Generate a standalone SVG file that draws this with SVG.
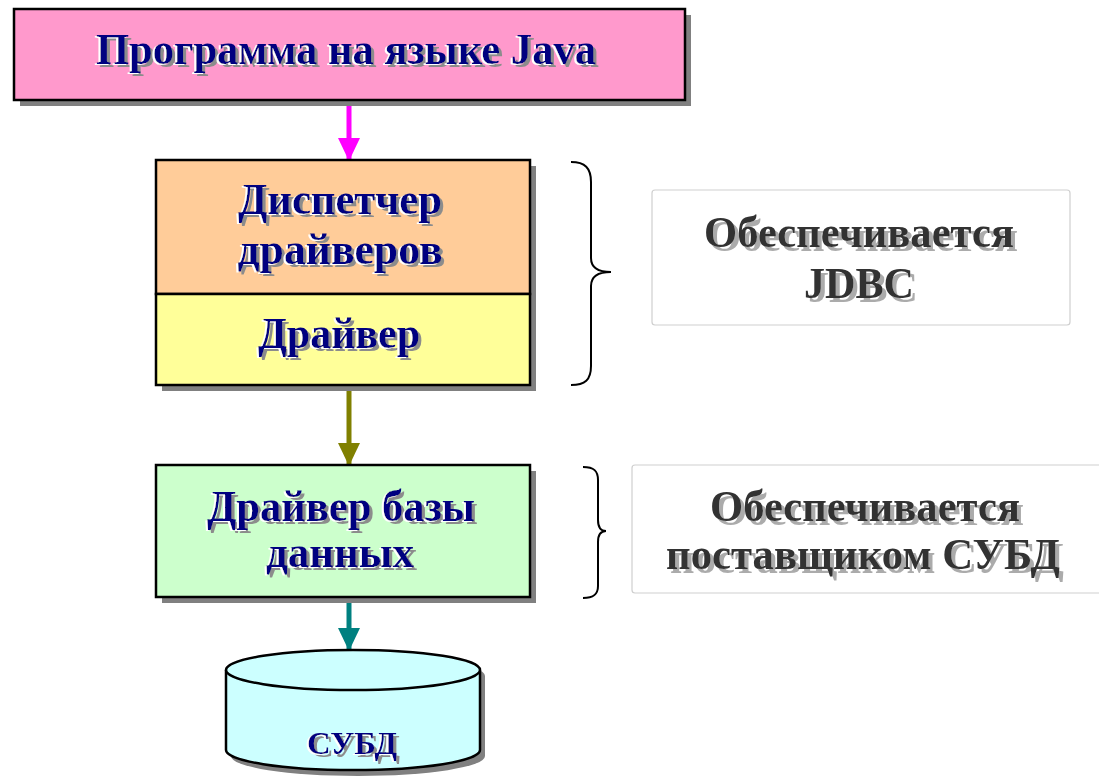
<svg xmlns="http://www.w3.org/2000/svg" width="1099" height="782" viewBox="0 0 1099 782">
  <defs>
    <style>
      .box { stroke: #000; stroke-width: 2.5; }
      .shadow { fill: #808080; }
      .lbl { font-family: "Liberation Serif", "Times New Roman", serif; font-weight: bold; font-size: 44px; text-anchor: middle; }
      .ink { fill: #000080; filter: url(#emboss); }
      .note { fill: #333333; filter: url(#noteShadow); }
      .brace { fill: none; stroke: #000; stroke-width: 2; }
      .panel { fill: #ffffff; stroke: #cfcfcf; stroke-width: 1.2; }
      .flow { stroke-width: 5; }
    </style>
    <!-- gray drop shadow plus a thin white highlight on the left -->
    <filter id="emboss" x="-10%" y="-30%" width="120%" height="160%">
      <feOffset in="SourceAlpha" dx="3" dy="3" result="o1"/>
      <feFlood flood-color="#8c8c8c"/>
      <feComposite in2="o1" operator="in" result="gray"/>
      <feOffset in="SourceAlpha" dx="-2" dy="1" result="o2"/>
      <feFlood flood-color="#ffffff"/>
      <feComposite in2="o2" operator="in" result="white"/>
      <feMerge>
        <feMergeNode in="gray"/>
        <feMergeNode in="white"/>
        <feMergeNode in="SourceGraphic"/>
      </feMerge>
    </filter>
    <filter id="noteShadow" x="-10%" y="-30%" width="120%" height="160%">
      <feOffset in="SourceAlpha" dx="4" dy="4" result="o1"/>
      <feFlood flood-color="#ababab"/>
      <feComposite in2="o1" operator="in" result="gray"/>
      <feMerge>
        <feMergeNode in="gray"/>
        <feMergeNode in="SourceGraphic"/>
      </feMerge>
    </filter>
    <marker id="headMagenta" viewBox="0 0 23 22" refX="23" refY="11" markerWidth="23" markerHeight="22" orient="auto" markerUnits="userSpaceOnUse">
      <path d="M0,0 L23,11 L0,22 z" fill="#ff00ff"/>
    </marker>
    <marker id="headOlive" viewBox="0 0 23 22" refX="23" refY="11" markerWidth="23" markerHeight="22" orient="auto" markerUnits="userSpaceOnUse">
      <path d="M0,0 L23,11 L0,22 z" fill="#808000"/>
    </marker>
    <marker id="headTeal" viewBox="0 0 23 22" refX="23" refY="11" markerWidth="23" markerHeight="22" orient="auto" markerUnits="userSpaceOnUse">
      <path d="M0,0 L23,11 L0,22 z" fill="#008080"/>
    </marker>
  </defs>

  <rect width="1099" height="782" fill="#ffffff"/>

  <!-- connectors -->
  <g id="connectors">
    <line class="flow" x1="349" y1="101" x2="349" y2="161" stroke="#ff00ff" marker-end="url(#headMagenta)"/>
    <line class="flow" x1="349" y1="386" x2="349" y2="466" stroke="#808000" marker-end="url(#headOlive)"/>
    <line class="flow" x1="349" y1="598" x2="349" y2="651" stroke="#008080" marker-end="url(#headTeal)"/>
  </g>

  <!-- Java program -->
  <g id="java-program">
    <rect class="shadow" x="20" y="15" width="671" height="91"/>
    <rect class="box" x="14" y="9" width="671" height="91" fill="#ff99cc"/>
    <text class="lbl ink" x="346" y="64" textLength="500" lengthAdjust="spacingAndGlyphs">Программа на языке Java</text>
  </g>

  <!-- JDBC layer: driver manager + driver -->
  <g id="jdbc-stack">
    <rect class="shadow" x="162" y="166" width="374" height="225"/>
    <rect class="box" x="156" y="160" width="374" height="134" fill="#ffcc99"/>
    <rect class="box" x="156" y="294" width="374" height="91" fill="#ffff99"/>
  </g>
  <g id="driver-manager">
    <text class="lbl ink" x="340" y="214" textLength="204" lengthAdjust="spacingAndGlyphs">Диспетчер</text>
    <text class="lbl ink" x="340" y="264" textLength="205" lengthAdjust="spacingAndGlyphs">драйверов</text>
  </g>
  <g id="driver">
    <text class="lbl ink" x="339" y="348" textLength="162" lengthAdjust="spacingAndGlyphs">Драйвер</text>
  </g>

  <!-- database driver -->
  <g id="db-driver">
    <rect class="shadow" x="162" y="471" width="374" height="132"/>
    <rect class="box" x="156" y="465" width="374" height="132" fill="#ccffcc"/>
    <text class="lbl ink" x="341" y="521" textLength="268" lengthAdjust="spacingAndGlyphs">Драйвер базы</text>
    <text class="lbl ink" x="340" y="567" textLength="148" lengthAdjust="spacingAndGlyphs">данных</text>
  </g>

  <!-- DBMS cylinder -->
  <g id="dbms">
    <path class="shadow" d="M231,676 L231,756 A127,20 0 0 0 485,756 L485,676 A127,20 0 0 0 231,676 z"/>
    <path d="M226,670 L226,750 A127,20 0 0 0 480,750 L480,670" fill="#ccffff" stroke="#000" stroke-width="2.5"/>
    <ellipse cx="353" cy="670" rx="127" ry="20" fill="#ccffff" stroke="#000" stroke-width="2.5"/>
    <text class="lbl ink" x="352" y="754" textLength="90" lengthAdjust="spacingAndGlyphs" style="font-size:32px">СУБД</text>
  </g>

  <!-- braces -->
  <g id="brace-jdbc">
    <path class="brace" d="M571,162 C585,162 591,168 591,182 L591,258 C591,268 598,272 611,272 C598,272 591,276 591,286 L591,366 C591,380 585,385 571,385"/>
  </g>
  <g id="brace-vendor">
    <path class="brace" d="M583,467 C594,467 598,471 598,480 L598,520 C598,527 601,531 606,531 C601,531 598,535 598,542 L598,586 C598,594 594,598 583,598"/>
  </g>

  <!-- notes -->
  <g id="note-jdbc">
    <rect class="panel" x="652" y="190" width="418" height="135" rx="3"/>
    <text class="lbl note" x="859" y="247" textLength="310" lengthAdjust="spacingAndGlyphs">Обеспечивается</text>
    <text class="lbl note" x="859" y="298" textLength="110" lengthAdjust="spacingAndGlyphs">JDBC</text>
  </g>
  <g id="note-vendor">
    <rect class="panel" x="632" y="465" width="470" height="128" rx="3"/>
    <text class="lbl note" x="865" y="521" textLength="310" lengthAdjust="spacingAndGlyphs">Обеспечивается</text>
    <text class="lbl note" x="863" y="569" textLength="394" lengthAdjust="spacingAndGlyphs">поставщиком СУБД</text>
  </g>
</svg>
